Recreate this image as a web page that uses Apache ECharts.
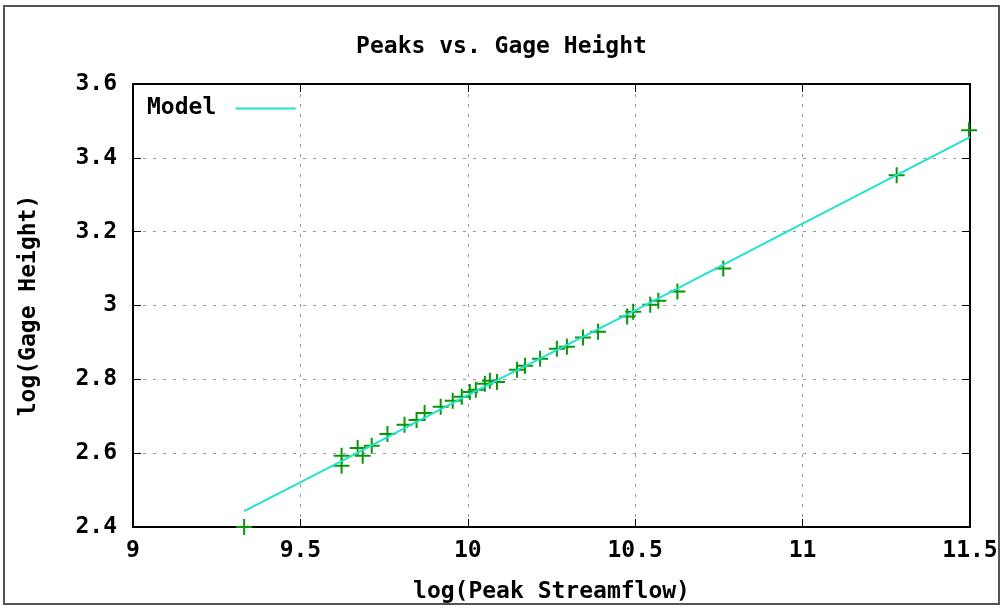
<!DOCTYPE html>
<html lang="en">
<head>
    <meta charset="UTF-8">
    <title>Peaks vs. Gage Height</title>
    <style>
        html, body { margin: 0; padding: 0; background: #fff; }
        #main { width: 1003px; height: 609px; }
    </style>
    <script src="https://cdn.jsdelivr.net/npm/echarts@6/dist/echarts.min.js"></script>
</head>
<body>
<div id="main"></div>
<script>
    // observed peaks: log(peak streamflow) vs log(gage height)
    var peakX = [9.332, 9.623, 9.623, 9.671, 9.686, 9.713, 9.760, 9.811, 9.847, 9.871,
                 9.919, 9.955, 9.982, 10.006, 10.024, 10.051, 10.066, 10.087, 10.147, 10.171,
                 10.216, 10.266, 10.296, 10.344, 10.389, 10.476, 10.494, 10.545, 10.569, 10.626,
                 10.763, 11.281, 11.497];
    var peakY = [2.400, 2.593, 2.566, 2.614, 2.593, 2.620, 2.652, 2.677, 2.690, 2.709,
                 2.726, 2.742, 2.753, 2.766, 2.772, 2.788, 2.796, 2.793, 2.826, 2.837,
                 2.856, 2.883, 2.888, 2.913, 2.929, 2.970, 2.983, 3.002, 3.013, 3.038,
                 3.100, 3.353, 3.475];

    // model line
    var modelX = [9.332, 9.620, 10.0, 10.5, 11.0, 11.5];
    var modelY = [2.443, 2.577, 2.757, 2.987, 3.222, 3.456];

    var xTicks = { min: 9, max: 11.5, step: 0.5 };
    var yTicks = { min: 2.4, max: 3.6, step: 0.2 };

    var font = '"DejaVu Sans Mono", monospace';

    var peaks = peakX.map(function (x, i) { return [x, peakY[i]]; });
    var model = modelX.map(function (x, i) { return [x, modelY[i]]; });

    var plus = 'path://M-1,-8h2v16h-2z M-8,-1h16v2h-16z';

    var chart = echarts.init(document.getElementById('main'));

    var option = {
        backgroundColor: '#fff',
        animation: false,
        title: {
            text: 'Peaks vs. Gage Height',
            left: 'center',
            top: 31,
            textStyle: { fontFamily: font, fontSize: 23, fontWeight: 'bold', color: '#000' }
        },
        legend: {
            left: 142,
            top: 92,
            align: 'right',
            itemWidth: 65,
            itemHeight: 2,
            data: [{ name: 'Model', icon: 'path://M0,0h60v2h-60z' }],
            textStyle: { fontFamily: font, fontSize: 23, fontWeight: 'bold', color: '#000', padding: [0, 12, 0, 0] }
        },
        graphic: [{
            type: 'rect',
            shape: { x: 4, y: 6, width: 995, height: 598 },
            style: { fill: 'none', stroke: '#555', lineWidth: 2 },
            silent: true
        }],
        grid: { left: 133, right: 33, top: 84, bottom: 80 },
        xAxis: [{
            type: 'value',
            min: xTicks.min, max: xTicks.max, interval: xTicks.step,
            name: 'log(Peak Streamflow)',
            nameLocation: 'middle',
            nameGap: 54,
            nameTextStyle: { fontFamily: font, fontSize: 23, fontWeight: 'bold', color: '#000' },
            axisLine: { show: true, lineStyle: { color: '#000', width: 2 } },
            axisTick: { inside: true, length: 8, lineStyle: { color: '#000', width: 1 } },
            axisLabel: { margin: 13, fontFamily: font, fontSize: 23, fontWeight: 'bold', color: '#000' },
            splitLine: { show: true, lineStyle: { color: '#999', type: [3, 7], width: 1 } }
        }, {
            type: 'value', position: 'top',
            min: xTicks.min, max: xTicks.max, interval: xTicks.step,
            axisLine: { show: true, lineStyle: { color: '#000', width: 2 } },
            axisTick: { inside: true, length: 8, lineStyle: { color: '#000', width: 1 } },
            axisLabel: { show: false },
            splitLine: { show: false }
        }],
        yAxis: [{
            type: 'value',
            min: yTicks.min, max: yTicks.max, interval: yTicks.step,
            name: 'log(Gage Height)',
            nameLocation: 'middle',
            nameGap: 92,
            nameTextStyle: { fontFamily: font, fontSize: 23, fontWeight: 'bold', color: '#000' },
            axisLine: { show: true, lineStyle: { color: '#000', width: 2 } },
            axisTick: { inside: true, length: 8, lineStyle: { color: '#000', width: 1 } },
            axisLabel: { margin: 16, fontFamily: font, fontSize: 23, fontWeight: 'bold', color: '#000' },
            splitLine: { show: true, lineStyle: { color: '#999', type: [3, 7], width: 1 } }
        }, {
            type: 'value', position: 'right',
            min: yTicks.min, max: yTicks.max, interval: yTicks.step,
            axisLine: { show: true, lineStyle: { color: '#000', width: 2 } },
            axisTick: { inside: true, length: 8, lineStyle: { color: '#000', width: 1 } },
            axisLabel: { show: false },
            splitLine: { show: false }
        }],
        series: [{
            name: 'Model',
            type: 'line',
            data: model,
            symbol: 'none',
            lineStyle: { color: '#1fe3cf', width: 2 },
            itemStyle: { color: '#1fe3cf' },
            z: 3
        }, {
            name: 'Peaks',
            type: 'scatter',
            data: peaks,
            symbol: plus,
            symbolSize: 16,
            itemStyle: { color: '#0a960a', opacity: 1 },
            z: 2
        }]
    };

    chart.setOption(option);
</script>
</body>
</html>
